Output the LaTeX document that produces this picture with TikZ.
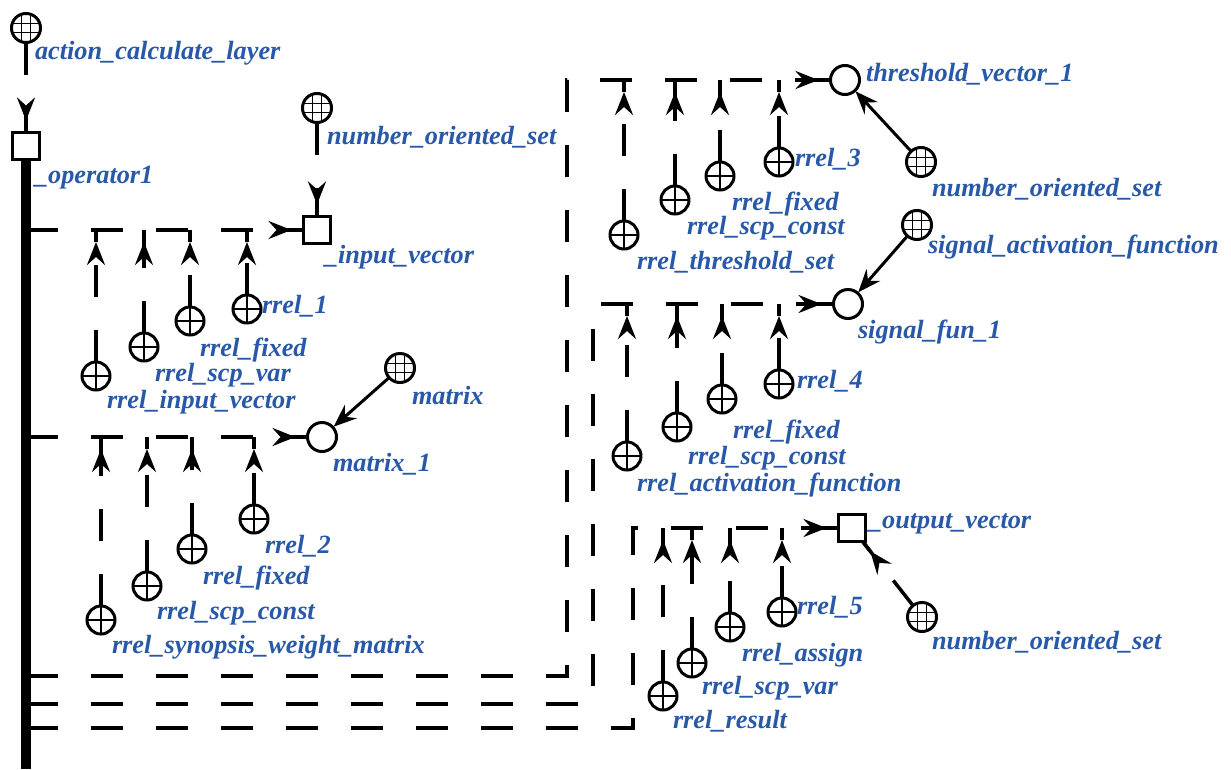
\documentclass[tikz,border=0pt]{standalone}
\usepackage{fontspec}
\setmainfont{Liberation Serif}
\usetikzlibrary{arrows.meta,decorations.markings,calc}
\definecolor{lblblue}{RGB}{40,88,168}
\begin{document}
\begin{tikzpicture}[x=1pt,y=-1pt,
  every node/.style={inner sep=0pt, outer sep=0pt},
  lbl/.style={anchor=west, text=lblblue, font=\fontsize{26.3}{30}\selectfont\bfseries\itshape, text height=17pt, text depth=5pt},
  cls/.style={circle, draw, line width=3pt, minimum size=29pt,
    path picture={
      \foreach \d in {-4.5pt,4.5pt}{
        \draw[line width=1.7pt] ([xshift=\d]path picture bounding box.north) -- ([xshift=\d]path picture bounding box.south);
        \draw[line width=1.7pt] ([yshift=\d]path picture bounding box.west) -- ([yshift=\d]path picture bounding box.east);}}},
  role/.style={circle, draw, line width=3pt, minimum size=28pt,
    path picture={
      \draw[line width=2.2pt] (path picture bounding box.north) -- (path picture bounding box.south)
                            (path picture bounding box.west) -- (path picture bounding box.east);}},
  cnode/.style={circle, draw, line width=3pt, minimum size=29pt},
  vnode/.style={rectangle, draw, line width=3pt, minimum size=27pt},
  tip/.tip={Stealth[length=23pt,width=18pt,inset=8pt]},
  tipback/.style={postaction={decorate}, decoration={markings,
    mark=at position -12pt with {\pgfsetdash{}{0pt}\arrow{tip}
      \draw[line width=3.5pt] (0pt,0pt) -- (12pt,0pt);}}},
  varc/.style={line width=3.5pt, dash pattern=on 32pt off 33pt, tipback},
  carc/.style={line width=3pt, -{tip}, shorten >=1pt},
  bus/.style={line width=9.5pt},
]
\useasboundingbox (0,0) rectangle (1231,769);

% ---- operator and its bus ----
\node[cls] (acl) at (26,28) {};
\node[lbl] (lacl) at (35,53) {action\_calculate\_layer};
\node[vnode] (op1) at (26,146) {};
\node[lbl] (lop1) at (35,177) {\_operator1};
\coordinate (busEnd) at (26,769);
\draw[varc] (acl) -- (op1);

% ---- input vector ----
\node[cls] (nos1) at (317,108) {};
\node[lbl] (lnos1) at (327,138) {number\_oriented\_set};
\node[vnode] (iv) at (317,230) {};
\node[lbl] (liv) at (325,257) {\_input\_vector};
\draw[varc] (nos1) -- (iv);
\coordinate (b1) at (26,230);
\draw[varc] (b1) -- (iv);
\node[role] (ra1) at (96,376) {};
\node[role] (ra2) at (144,347) {};
\node[role] (ra3) at (190,321) {};
\node[role] (ra4) at (247,309) {};
\node[lbl] (lra1) at (107,402) {rrel\_input\_vector};
\node[lbl] (lra2) at (155,375) {rrel\_scp\_var};
\node[lbl] (lra3) at (200,350) {rrel\_fixed};
\node[lbl] (lra4) at (262,307) {rrel\_1};
\foreach \n in {ra1,ra2,ra3,ra4} \draw[varc] (\n) -- (\n |- b1);

% ---- weight matrix ----
\node[cnode] (mat1) at (322,437) {};
\node[lbl] (lmat1) at (333,465) {matrix\_1};
\node[cls] (mat) at (400,368) {};
\node[lbl] (lmat) at (412,398) {matrix};
\draw[carc] (mat) -- (mat1);
\coordinate (b2) at (26,437);
\draw[varc] (b2) -- (mat1);
\node[role] (rb1) at (101,620) {};
\node[role] (rb2) at (147,586) {};
\node[role] (rb3) at (192,549) {};
\node[role] (rb4) at (254,519) {};
\node[lbl] (lrb1) at (112,647) {rrel\_synopsis\_weight\_matrix};
\node[lbl] (lrb2) at (157,613) {rrel\_scp\_const};
\node[lbl] (lrb3) at (203,578) {rrel\_fixed};
\node[lbl] (lrb4) at (265,547) {rrel\_2};
\foreach \n in {rb1,rb2,rb3,rb4} \draw[varc] (\n) -- (\n |- b2);

% ---- threshold vector ----
\node[cnode] (thr) at (845,80) {};
\node[lbl] (lthr) at (866,75) {threshold\_vector\_1};
\node[cls] (nos2) at (921,162) {};
\node[lbl] (lnos2) at (932,190) {number\_oriented\_set};
\draw[carc] (nos2) -- (thr);
\coordinate (b3) at (26,676);
\coordinate (c3a) at (567,676);
\coordinate (c3b) at (567,80);
\draw[varc] (b3) -- (c3a) -- (c3b) -- (thr);
\node[role] (rc1) at (624,235) {};
\node[role] (rc2) at (675,200) {};
\node[role] (rc3) at (720,176) {};
\node[role] (rc4) at (779,162) {};
\node[lbl] (lrc1) at (637,263) {rrel\_threshold\_set};
\node[lbl] (lrc2) at (687,228) {rrel\_scp\_const};
\node[lbl] (lrc3) at (732,204) {rrel\_fixed};
\node[lbl] (lrc4) at (795,160) {rrel\_3};
\foreach \n in {rc1,rc2,rc3,rc4} \draw[varc] (\n) -- (\n |- c3b);

% ---- signal function ----
\node[cnode] (sig) at (848,304) {};
\node[lbl] (lsig) at (858,332) {signal\_fun\_1};
\node[cls] (saf) at (917,225) {};
\node[lbl] (lsaf) at (928,247) {signal\_activation\_function};
\draw[carc] (saf) -- (sig);
\coordinate (b4) at (26,704);
\coordinate (c4a) at (593,704);
\coordinate (c4b) at (593,304);
\draw[varc] (b4) -- (c4a) -- (c4b) -- (sig);
\node[role] (rd1) at (627,456) {};
\node[role] (rd2) at (677,427) {};
\node[role] (rd3) at (722,399) {};
\node[role] (rd4) at (779,384) {};
\node[lbl] (lrd1) at (637,485) {rrel\_activation\_function};
\node[lbl] (lrd2) at (688,458) {rrel\_scp\_const};
\node[lbl] (lrd3) at (733,432) {rrel\_fixed};
\node[lbl] (lrd4) at (797,382) {rrel\_4};
\foreach \n in {rd1,rd2,rd3,rd4} \draw[varc] (\n) -- (\n |- c4b);

% ---- output vector ----
\node[vnode] (ov) at (852,528) {};
\node[lbl] (lov) at (869,522) {\_output\_vector};
\node[cls] (nos3) at (922,617) {};
\node[lbl] (lnos3) at (932,643) {number\_oriented\_set};
\draw[varc] (nos3) -- (ov);
\coordinate (b5) at (26,728);
\coordinate (c5a) at (633,728);
\coordinate (c5b) at (633,528);
\draw[varc] (b5) -- (c5a) -- (c5b) -- (ov);
\node[role] (re1) at (663,696) {};
\node[role] (re2) at (692,663) {};
\node[role] (re3) at (730,627) {};
\node[role] (re4) at (782,612) {};
\node[lbl] (lre1) at (673,722) {rrel\_result};
\node[lbl] (lre2) at (702,688) {rrel\_scp\_var};
\node[lbl] (lre3) at (742,655) {rrel\_assign};
\node[lbl] (lre4) at (797,608) {rrel\_5};
\foreach \n in {re1,re2,re3,re4} \draw[varc] (\n) -- (\n |- c5b);

% ---- bus drawn last, over the arc tails ----
\draw[bus] (op1.south) -- (busEnd);
\end{tikzpicture}
\end{document}
